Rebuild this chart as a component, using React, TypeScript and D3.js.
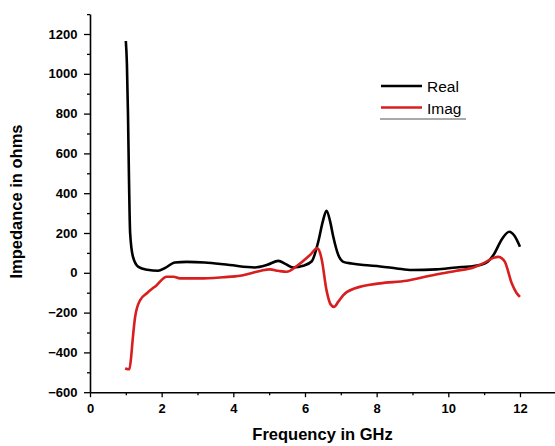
import React, { useEffect, useRef } from "react";
import * as d3 from "d3";

const realX = [1.0, 1.03, 1.06, 1.09, 1.12, 1.2, 1.35, 1.6, 1.9, 2.1, 2.37, 2.7, 3.2, 3.9, 4.6, 4.95, 5.26, 5.45, 5.67, 5.95, 6.19, 6.37, 6.5, 6.6, 6.7, 6.79, 6.93, 7.07, 7.3, 7.63, 8.1, 8.56, 8.98, 9.67, 10.23, 10.6, 10.88, 11.1, 11.26, 11.5, 11.7, 11.85, 12.0];
const realY = [1165, 1050, 800, 450, 200, 80, 30, 15, 10, 25, 52, 55, 52, 39, 27, 40, 60, 45, 27, 35, 58, 156, 260, 312, 260, 181, 89, 55, 47, 39, 32, 22, 14, 17, 27, 32, 39, 55, 89, 170, 206, 185, 131];

const imagX = [0.98, 1.1, 1.15, 1.19, 1.26, 1.4, 1.58, 1.86, 2.14, 2.33, 2.51, 3.07, 3.72, 4.19, 4.47, 4.8, 5.02, 5.25, 5.49, 5.77, 6.14, 6.34, 6.42, 6.47, 6.6, 6.72, 6.81, 6.93, 7.07, 7.4, 8.09, 8.84, 9.49, 10.23, 10.7, 11.0, 11.26, 11.4, 11.5, 11.58, 11.77, 11.9, 12.0];
const imagY = [-481, -485, -420, -338, -221, -137, -104, -62, -20, -20, -28, -28, -22, -15, -3, 12, 17, 10, 5, 34, 89, 123, 100, 64, -87, -160, -171, -145, -112, -78, -53, -40, -15, 10, 27, 50, 75, 80, 72, 55, -53, -100, -121];

const xMajor = [0, 2, 4, 6, 8, 10, 12];
const xMinor = [1, 3, 5, 7, 9, 11, 13];
const yMajor = [-600, -400, -200, 0, 200, 400, 600, 800, 1000, 1200];
const yMinor = [-500, -300, -100, 100, 300, 500, 700, 900, 1100, 1300];

const seriesNames = ["Real", "Imag"];
const seriesColors = ["#000000", "#d81e1e"];

const W = 555;
const H = 446;

export default function App() {
  const gx = useRef<SVGGElement>(null);
  const gy = useRef<SVGGElement>(null);

  const x = d3.scaleLinear().domain([0, 13]).range([90, 555.8]);
  const y = d3.scaleLinear().domain([-600, 1300]).range([392.2, 14.1]);

  const line = d3
    .line<[number, number]>()
    .x((d) => x(d[0]))
    .y((d) => y(d[1]))
    .curve(d3.curveMonotoneX);

  const realPts = realX.map((v, i) => [v, realY[i]] as [number, number]);
  const imagPts = imagX.map((v, i) => [v, imagY[i]] as [number, number]);

  useEffect(() => {
    const font = "'Liberation Sans', Arial, sans-serif";
    if (gx.current) {
      const g = d3.select(gx.current);
      g.selectAll("*").remove();
      g.call(d3.axisBottom(x).tickValues(xMajor).tickSize(5).tickSizeOuter(0).tickFormat(d3.format("d")) as any);
      g.append("g").call(d3.axisBottom(x).tickValues(xMinor).tickSize(3).tickSizeOuter(0).tickFormat(() => "") as any)
        .select(".domain").remove();
      g.selectAll(".domain").attr("stroke", "#000").attr("stroke-width", 1.6);
      g.selectAll("line").attr("stroke", "#000").attr("stroke-width", 1.3);
      g.selectAll("text").attr("font-family", font).attr("font-weight", "bold").attr("font-size", 13).attr("fill", "#000").attr("dy", "1.0em");
    }
    if (gy.current) {
      const g = d3.select(gy.current);
      g.selectAll("*").remove();
      g.call(d3.axisLeft(y).tickValues(yMajor).tickSize(6).tickSizeOuter(0).tickFormat(d3.format("d")) as any);
      g.append("g").call(d3.axisLeft(y).tickValues(yMinor).tickSize(3).tickSizeOuter(0).tickFormat(() => "") as any)
        .select(".domain").remove();
      g.selectAll(".domain").attr("stroke", "#000").attr("stroke-width", 1.6);
      g.selectAll("line").attr("stroke", "#000").attr("stroke-width", 1.3);
      g.selectAll("text").attr("font-family", font).attr("font-weight", "bold").attr("font-size", 13).attr("fill", "#000").attr("x", -12.5);
    }
  }, []);

  const font = "'Liberation Sans', Arial, sans-serif";

  return (
    <svg width={W} height={H} style={{ position: "absolute", left: 0, top: 0, background: "#fff" }}>
      <rect x={0} y={0} width={W} height={H} fill="#fff" />
      <path d={line(realPts) || ""} fill="none" stroke={seriesColors[0]} strokeWidth={2.6} strokeLinejoin="round" />
      <path d={line(imagPts) || ""} fill="none" stroke={seriesColors[1]} strokeWidth={2.6} strokeLinejoin="round" />
      <g ref={gx} transform={`translate(0,${y(-600)})`} />
      <g ref={gy} transform={`translate(${x(0)},0)`} />
      <text x={322.5} y={440} textAnchor="middle" fontFamily={font} fontWeight="bold" fontSize={16.5} fill="#000">
        Frequency in GHz
      </text>
      <text
        transform={`translate(22,201.5) rotate(-90)`}
        textAnchor="middle"
        fontFamily={font}
        fontWeight="bold"
        fontSize={16.5}
        fill="#000"
      >
        Impedance in ohms
      </text>
      {seriesNames.map((n, i) => (
        <g key={n}>
          <line x1={381} x2={422} y1={86 + i * 21.5} y2={86 + i * 21.5} stroke={seriesColors[i]} strokeWidth={2.6} />
          <text x={427} y={92 + i * 21.5} fontFamily={font} fontSize={15.5} fill="#000">
            {n}
          </text>
        </g>
      ))}
      <line x1={380} x2={466} y1={119} y2={119} stroke="#555" strokeWidth={1} />
    </svg>
  );
}
